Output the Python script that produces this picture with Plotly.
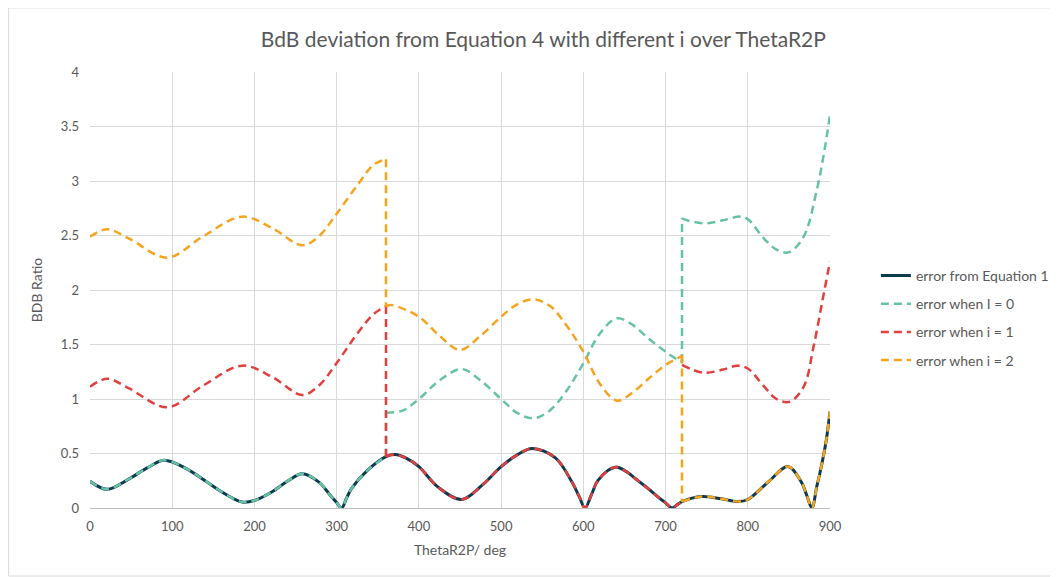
import plotly.graph_objects as go

# error from Equation 1 (solid navy)
theta_eq1 = [0, 21, 48, 70, 90, 116, 140, 157, 185, 200, 221, 240, 258, 278, 294, 300,
             306, 312, 318, 338, 360, 371, 385, 400, 423, 452, 477, 500, 520, 538, 566,
             586, 595, 602, 610, 618, 639, 671, 691, 700, 708, 714, 720, 744, 768, 788,
             800, 825, 849, 865, 872, 878, 884, 889, 895, 900]
err_eq1 = [0.245, 0.172, 0.27, 0.37, 0.437, 0.366, 0.25, 0.163, 0.055, 0.069, 0.147, 0.245,
           0.315, 0.24, 0.10, 0.05, 0.0, 0.089, 0.178, 0.35, 0.472, 0.49, 0.455, 0.38,
           0.194, 0.078, 0.21, 0.38, 0.49, 0.547, 0.46, 0.24, 0.105, 0.0, 0.125, 0.256,
           0.375, 0.225, 0.10, 0.047, 0.0, 0.029, 0.058, 0.106, 0.084, 0.059, 0.078, 0.24,
           0.38, 0.24, 0.11, 0.0, 0.2, 0.365, 0.6, 0.884]

# error when I = 0 (0-360 lies on top of Equation 1)
theta_i0_b = [360, 380, 400, 425, 452, 475, 500, 520, 540, 560, 580, 600, 620, 641, 660, 680, 700, 715, 720]
err_i0_b = [0.875, 0.893, 1.0, 1.17, 1.275, 1.17, 1.0, 0.87, 0.823, 0.9, 1.08, 1.327, 1.6, 1.74,
            1.68, 1.55, 1.434, 1.358, 1.34]
theta_i0_c = [720, 728, 750, 770, 791, 800, 820, 835, 850, 868, 884, 893, 900]
err_i0_c = [2.658, 2.636, 2.612, 2.64, 2.673, 2.65, 2.47, 2.37, 2.346, 2.49, 2.92, 3.27, 3.606]

# error when i = 1 (360-720 lies on top of Equation 1)
theta_i1_a = [0, 21, 47, 94, 137, 185, 222, 258, 278, 300, 327, 345, 360]
err_i1_a = [1.113, 1.186, 1.10, 0.924, 1.12, 1.306, 1.2, 1.037, 1.12, 1.33, 1.62, 1.78, 1.853]
theta_i1_c = [720, 746, 770, 787, 800, 820, 835, 851, 868, 880, 891, 900]
err_i1_c = [1.312, 1.241, 1.27, 1.306, 1.28, 1.113, 1.0, 0.975, 1.113, 1.48, 1.91, 2.26]

# error when i = 2 (720-900 lies on top of Equation 1)
theta_i2_a = [0, 21, 47, 94, 137, 185, 222, 258, 278, 300, 327, 345, 360]
err_i2_a = [2.489, 2.557, 2.474, 2.297, 2.489, 2.673, 2.566, 2.41, 2.49, 2.70, 2.98, 3.15, 3.20]
theta_i2_b = [360, 366, 400, 425, 450, 475, 500, 520, 540, 560, 580, 600, 620, 641, 660, 680, 700, 716, 720]
err_i2_b = [1.847, 1.862, 1.755, 1.58, 1.45, 1.58, 1.755, 1.87, 1.915, 1.85, 1.67, 1.434, 1.14,
            0.985, 1.06, 1.19, 1.312, 1.38, 1.40]


def eq1_span(lo, hi):
    pts = [(t, v) for t, v in zip(theta_eq1, err_eq1) if lo <= t <= hi]
    return [p[0] for p in pts], [p[1] for p in pts]


def add_series(fig, name, color, dash, width, spans, joins=None):
    for k, (xs, ys) in enumerate(spans):
        if k > 0 and (joins is None or joins[k - 1]):
            # vertical jump between spans
            px_, py_ = spans[k - 1]
            fig.add_trace(go.Scatter(x=[px_[-1], xs[0]], y=[py_[-1], ys[0]], mode='lines',
                                     line=dict(color=color, dash=dash, width=width),
                                     legendgroup=name, showlegend=False, hoverinfo='skip'))
        fig.add_trace(go.Scatter(x=xs, y=ys, mode='lines', name=name,
                                 line=dict(color=color, dash=dash, width=width,
                                           shape='spline', smoothing=1),
                                 legendgroup=name, showlegend=(k == 0)))


fig = go.Figure()
dash = '8px,5px'
add_series(fig, 'error from Equation 1', '#0e3a4f', 'solid', 3, [(theta_eq1, err_eq1)])
add_series(fig, 'error when I = 0', '#66c2a5', dash, 2.5,
           [eq1_span(0, 360), (theta_i0_b, err_i0_b), (theta_i0_c, err_i0_c)])
add_series(fig, 'error when i = 1', '#e23f3f', dash, 2.5,
           [(theta_i1_a, err_i1_a), eq1_span(360, 720), (theta_i1_c, err_i1_c)],
           joins=[True, False])
add_series(fig, 'error when i = 2', '#f4a41f', dash, 2.5,
           [(theta_i2_a, err_i2_a), (theta_i2_b, err_i2_b), eq1_span(720, 900)])

grey = '#595959'
fig.update_layout(
    width=1058, height=577,
    margin=dict(l=82, r=236, t=64, b=77),
    paper_bgcolor='white', plot_bgcolor='white',
    font=dict(family='Lato, Calibri, sans-serif', size=13, color=grey),
    title=dict(text='BdB deviation from Equation 4 with different i over ThetaR2P',
               x=0.506, xanchor='center', y=0.945, yanchor='middle',
               font=dict(size=21, color=grey)),
    legend=dict(x=1.062, y=0.436, xanchor='left', yanchor='middle',
                traceorder='grouped', tracegroupgap=7,
                font=dict(size=14, color=grey), bgcolor='rgba(0,0,0,0)'),
    shapes=[dict(type='rect', xref='paper', yref='paper', x0=-0.11, x1=1.306, y0=-0.156, y1=1.147,
                 line=dict(color='#d9d9d9', width=1), layer='below')],
)
fig.update_xaxes(range=[0, 900], dtick=100, showgrid=True, gridcolor='#d9d9d9', gridwidth=1,
                 zeroline=False, showline=True, linecolor='#bfbfbf', linewidth=1,
                 ticklabelstandoff=6, tickfont=dict(size=13, color=grey),
                 title=dict(text='ThetaR2P/ deg', font=dict(size=14, color=grey), standoff=12))
fig.update_yaxes(range=[0, 4], dtick=0.5, showgrid=True, gridcolor='#d9d9d9', gridwidth=1,
                 zeroline=False, showline=False,
                 ticklabelstandoff=10, tickfont=dict(size=13, color=grey),
                 title=dict(text='BDB Ratio', font=dict(size=14, color=grey), standoff=14))

fig.write_html('out.html')
